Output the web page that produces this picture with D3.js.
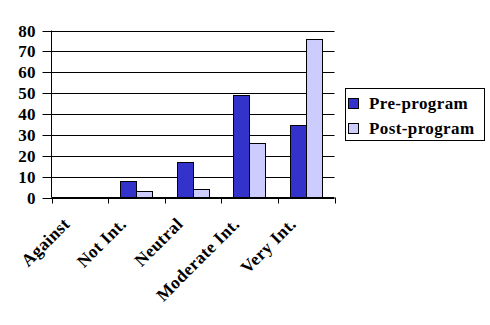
<!DOCTYPE html>
<html><head><meta charset="utf-8">
<script src="https://cdn.jsdelivr.net/npm/d3@7"></script>
<style>body{margin:0;background:#fff}svg{display:block}text{font-family:"Liberation Serif","Times New Roman",serif;font-weight:bold;fill:#000;letter-spacing:0.4px}</style>
</head><body><svg id="c" width="490" height="325"></svg>
<script>
const categories = ["Against","Not Int.","Neutral","Moderate Int.","Very Int."];
const seriesNames = ["Pre-program","Post-program"];
const preValues = [0, 8, 17, 49, 34.5];
const postValues = [0, 3, 4, 26, 76];
const yTicks = [0,10,20,30,40,50,60,70,80];
const colors = ["#3333CC","#CCCCFF"];

const svg = d3.select("#c");
const L = 51.5, R = 334.5, T = 30.5, B = 197.5;
const x = d3.scaleBand().domain(categories).range([L, R]);
const y = d3.scaleLinear().domain([0, 80]).range([B, T]);
const sub = d3.scaleBand().domain(seriesNames).range([0, 32]);

// gridlines + left ticks
svg.append("g").selectAll("line").data(yTicks).join("line")
  .attr("x1", L - 9).attr("x2", R).attr("y1", d => Math.round(y(d)) + 0.5).attr("y2", d => Math.round(y(d)) + 0.5)
  .attr("stroke", "#000").attr("stroke-width", 1);
svg.append("g").selectAll("text").data(yTicks).join("text")
  .attr("x", 36).attr("y", d => Math.round(y(d)) + 6)
  .attr("text-anchor", "end").attr("font-size", 17).text(d => d);

// bars
const data = [preValues, postValues];
categories.forEach((c, i) => {
  seriesNames.forEach((s, j) => {
    const v = data[j][i];
    if (v <= 0) return;
    const x0 = Math.round(x(c) + 12 + sub(s)) + 0.5;
    svg.append("rect").attr("x", x0).attr("y", Math.round(y(v)) + 0.5)
      .attr("width", 16).attr("height", Math.round(y(0)) - Math.round(y(v)))
      .attr("fill", colors[j]).attr("stroke", "#000").attr("stroke-width", 1);
  });
});

// axes lines
svg.append("line").attr("x1", L).attr("x2", L).attr("y1", T).attr("y2", B).attr("stroke", "#000");
svg.append("line").attr("x1", L).attr("x2", R).attr("y1", B).attr("y2", B).attr("stroke", "#000");
const bounds = categories.map(c => x(c)).concat([R]);
svg.append("g").selectAll("line").data(bounds).join("line")
  .attr("x1", d => Math.round(d) + 0.5).attr("x2", d => Math.round(d) + 0.5)
  .attr("y1", B).attr("y2", B + 6).attr("stroke", "#000");

// x labels
svg.append("g").selectAll("text").data(categories).join("text")
  .attr("text-anchor", "end").attr("font-size", 17.5)
  .attr("transform", d => `translate(${x(d) + x.bandwidth()/2 - 9},${225}) rotate(-45)`)
  .text(d => d);

// legend
const lg = svg.append("g");
lg.append("rect").attr("x", 345.5).attr("y", 88.5).attr("width", 139).attr("height", 52)
  .attr("fill", "#fff").attr("stroke", "#000");
seriesNames.forEach((s, j) => {
  lg.append("rect").attr("x", 348.5).attr("y", 98.5 + j * 25).attr("width", 10).attr("height", 10)
    .attr("fill", colors[j]).attr("stroke", "#000");
  lg.append("text").attr("x", 369).attr("y", 109 + j * 25).attr("font-size", 17).text(s);
});
</script></body></html>
